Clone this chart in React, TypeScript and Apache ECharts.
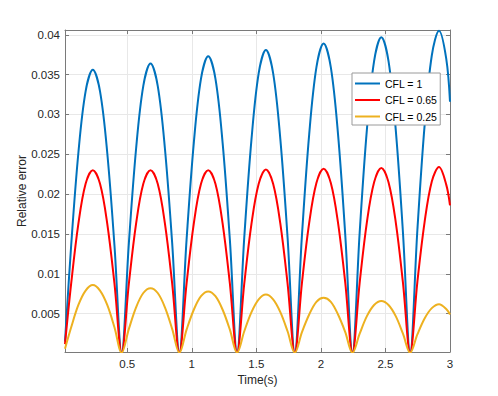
import React, { useEffect, useRef } from "react";
import * as echarts from "echarts";

const time = [
  0.018, 0.0659, 0.1217, 0.1776, 0.2335, 0.2893, 0.3452, 0.401, 0.4569,
  0.5128, 0.5686, 0.6245, 0.6804, 0.7362, 0.7921, 0.848, 0.9038,
  0.9597, 1.0155, 1.0714, 1.1273, 1.1831, 1.239, 1.2949, 1.3507,
  1.4066, 1.4625, 1.5183, 1.5742, 1.63, 1.6859, 1.7418, 1.7976,
  1.8535, 1.9094, 1.9652, 2.0211, 2.077, 2.1328, 2.1887, 2.2445,
  2.3004, 2.3563, 2.4121, 2.468, 2.5238, 2.5797, 2.6356, 2.6914,
  2.7473, 2.8032, 2.859, 2.9149, 2.9708, 3.0,
];

const cfl1 = [
  0.0015,
  0.0136, 0.0252, 0.0329, 0.0356, 0.0329, 0.0252, 0.0136, 0.0001,
  0.0139, 0.0257, 0.0336, 0.0364, 0.0336, 0.0257, 0.0139, 0.0001,
  0.0143, 0.0264, 0.0345, 0.0373, 0.0345, 0.0264, 0.0143, 0.0001,
  0.0146, 0.0269, 0.0352, 0.0381, 0.0352, 0.0269, 0.0146, 0.0001,
  0.0149, 0.0275, 0.0359, 0.0389, 0.0359, 0.0275, 0.0149, 0.0001,
  0.0152, 0.0281, 0.0367, 0.0397, 0.0367, 0.0281, 0.0152, 0.0001,
  0.0155, 0.0286, 0.0374, 0.0405, 0.037, 0.0316,
];

const cfl065 = [
  0.0012,
  0.0088, 0.0163, 0.0213, 0.023, 0.0213, 0.0163, 0.0088, 0.0001,
  0.0088, 0.0163, 0.0213, 0.023, 0.0213, 0.0163, 0.0088, 0.0001,
  0.0088, 0.0163, 0.0213, 0.023, 0.0213, 0.0163, 0.0088, 0.0001,
  0.0088, 0.0163, 0.0213, 0.0231, 0.0213, 0.0163, 0.0088, 0.0001,
  0.0089, 0.0164, 0.0214, 0.0232, 0.0214, 0.0164, 0.0089, 0.0001,
  0.0089, 0.0165, 0.0215, 0.0233, 0.0215, 0.0165, 0.0089, 0.0001,
  0.009, 0.0165, 0.0216, 0.0234, 0.0212, 0.0186,
];

const cfl025 = [
  0.0006,
  0.0033, 0.0061, 0.0079, 0.0086, 0.0079, 0.0061, 0.0033, 0.0001,
  0.0031, 0.0058, 0.0076, 0.0082, 0.0076, 0.0058, 0.0031, 0.0001,
  0.003, 0.0055, 0.0072, 0.0078, 0.0072, 0.0055, 0.003, 0.0001,
  0.0028, 0.0052, 0.0068, 0.0074, 0.0068, 0.0052, 0.0028, 0.0001,
  0.0027, 0.0049, 0.0065, 0.007, 0.0065, 0.0049, 0.0027, 0.0001,
  0.0025, 0.0047, 0.0061, 0.0066, 0.0061, 0.0047, 0.0025, 0.0001,
  0.0024, 0.0044, 0.0057, 0.0062, 0.0056, 0.0049,
];

const seriesNames = ["CFL = 1", "CFL = 0.65", "CFL = 0.25"];
const seriesColors = ["#0072BD", "#FF0000", "#EDB120"];
const seriesValues = [cfl1, cfl065, cfl025];

const xTickValues = [0.5, 1, 1.5, 2, 2.5, 3];
const xTickLabels = ["0.5", "1", "1.5", "2", "2.5", "3"];
const yTickValues = [0.005, 0.01, 0.015, 0.02, 0.025, 0.03, 0.035, 0.04];
const yTickLabels = ["0.005", "0.01", "0.015", "0.02", "0.025", "0.03", "0.035", "0.04"];

const X_MIN = 0.018;
const X_MAX = 3;
const Y_MIN = 0.0002;
const Y_MAX = 0.0406;

const FONT = "'Liberation Sans', Arial, Helvetica, sans-serif";
const AXIS_COLOR = "#7a7a7a";
const TEXT_COLOR = "#262626";
const GRID_COLOR = "#e8e8e8";

function makeFormatter(vals: number[], labels: string[]) {
  return (v: number) => {
    for (let i = 0; i < vals.length; i++) {
      if (Math.abs(v - vals[i]) < 1e-9) return labels[i];
    }
    return "";
  };
}

export default function App() {
  const ref = useRef<HTMLDivElement>(null);
  useEffect(() => {
    if (!ref.current) return;
    const chart = echarts.init(ref.current, undefined, { renderer: "svg" });
    const baseAxisLine = { show: true, lineStyle: { color: AXIS_COLOR, width: 1 } };
    const baseTick = { show: true, inside: true, length: 4, lineStyle: { color: AXIS_COLOR, width: 1 } };
    chart.setOption({
      animation: false,
      backgroundColor: "#ffffff",
      textStyle: { fontFamily: FONT },
      grid: { left: 65, right: 48, top: 30, bottom: 44, show: false },
      legend: {
        data: seriesNames,
        orient: "vertical",
        left: 352,
        top: 73,
        icon: "rect",
        itemWidth: 25,
        itemHeight: 2,
        itemGap: 5.5,
        padding: [5, 3, 3, 3],
        backgroundColor: "#ffffff",
        borderColor: "#9a9a9a",
        borderWidth: 1,
        textStyle: { fontFamily: FONT, fontSize: 10.5, color: "#000000" },
      },
      xAxis: [
        {
          type: "value",
          min: X_MIN,
          max: X_MAX,
          splitNumber: 6,
          axisLine: baseAxisLine,
          axisTick: baseTick,
          axisLabel: {
            color: TEXT_COLOR,
            fontFamily: FONT,
            fontSize: 11.5,
            margin: 6,
            showMinLabel: true,
            showMaxLabel: true,
            formatter: makeFormatter(xTickValues, xTickLabels),
          },
          splitLine: { show: true, lineStyle: { color: GRID_COLOR, width: 1 } },
          name: "Time(s)",
          nameLocation: "middle",
          nameGap: 22,
          nameMoveOverlap: false,
          nameTextStyle: { color: TEXT_COLOR, fontFamily: FONT, fontSize: 12 },
        },
        {
          type: "value",
          position: "top",
          min: X_MIN,
          max: X_MAX,
          splitNumber: 6,
          axisLine: baseAxisLine,
          axisTick: baseTick,
          axisLabel: { show: false },
          splitLine: { show: false },
        },
      ],
      yAxis: [
        {
          type: "value",
          min: Y_MIN,
          max: Y_MAX,
          splitNumber: 8,
          axisLine: baseAxisLine,
          axisTick: baseTick,
          axisLabel: {
            color: TEXT_COLOR,
            fontFamily: FONT,
            fontSize: 11.5,
            margin: 5,
            formatter: makeFormatter(yTickValues, yTickLabels),
          },
          splitLine: { show: true, lineStyle: { color: GRID_COLOR, width: 1 } },
          name: "Relative error",
          nameLocation: "middle",
          nameGap: 37,
          nameMoveOverlap: false,
          nameTextStyle: { color: TEXT_COLOR, fontFamily: FONT, fontSize: 12 },
        },
        {
          type: "value",
          position: "right",
          min: Y_MIN,
          max: Y_MAX,
          splitNumber: 8,
          axisLine: baseAxisLine,
          axisTick: baseTick,
          axisLabel: { show: false },
          splitLine: { show: false },
        },
      ],
      series: seriesValues.map((vals, i) => ({
        name: seriesNames[i],
        type: "line",
        xAxisIndex: 0,
        yAxisIndex: 0,
        data: time.map((t, j) => [t, vals[j]]),
        showSymbol: false,
        symbol: "none",
        smooth: 0.35,
        color: seriesColors[i],
        lineStyle: { color: seriesColors[i], width: 2 },
      })),
    });
    return () => chart.dispose();
  }, []);
  return (
    <div
      ref={ref}
      style={{ position: "absolute", left: 0, top: 0, width: 498, height: 396, background: "#fff" }}
    />
  );
}
